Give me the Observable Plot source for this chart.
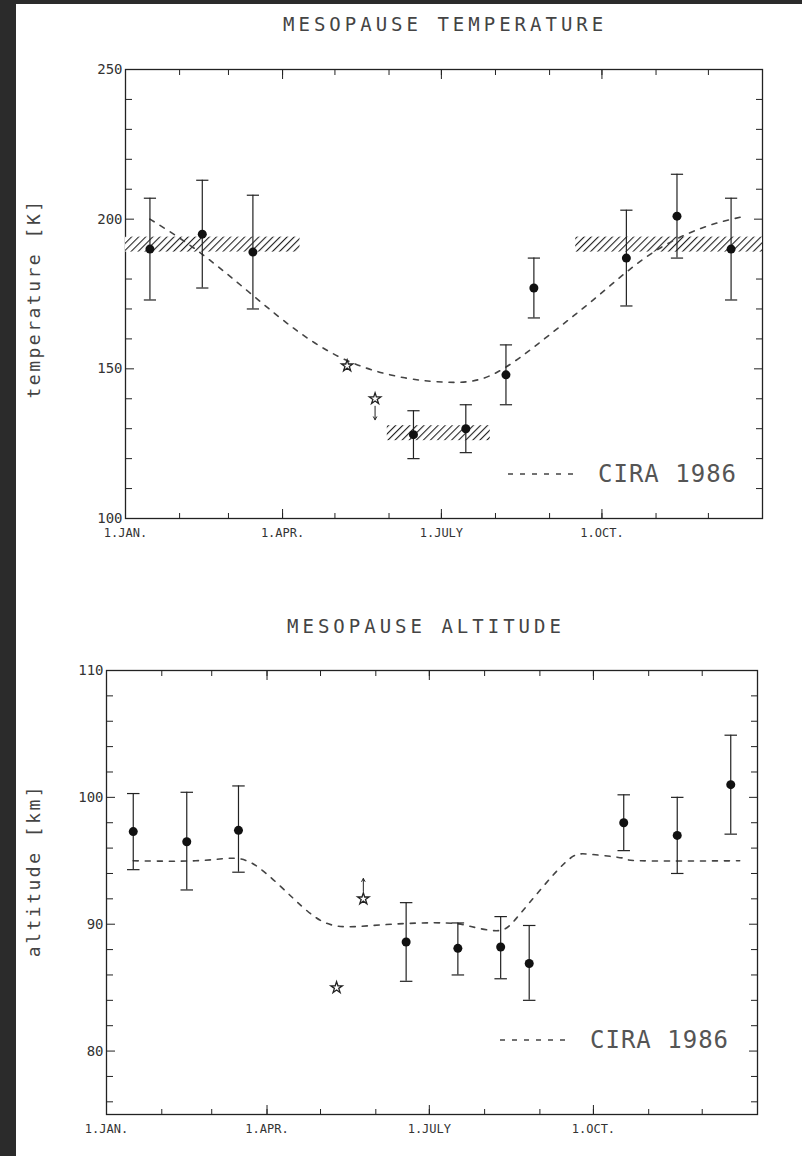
<!DOCTYPE html>
<html><head><meta charset="utf-8">
<script src="https://cdn.jsdelivr.net/npm/d3@7"></script>
<script src="https://cdn.jsdelivr.net/npm/@observablehq/plot@0.6"></script>
<style>
body{margin:0;background:#2b2b2b;width:802px;height:1156px;position:relative;overflow:hidden;font-family:"DejaVu Sans Mono",monospace;}
#paper{position:absolute;left:16px;top:4px;width:786px;height:1152px;background:#fff;}
.abs{position:absolute;}
.title{font-size:19px;color:#444;letter-spacing:4px;white-space:nowrap;}
.leg{font-size:24px;color:#555;display:flex;align-items:center;gap:22px;letter-spacing:1px;white-space:nowrap;}
.ylab{font-size:18px;color:#444;transform:rotate(-90deg);transform-origin:center;letter-spacing:2.5px;white-space:nowrap;}
</style></head><body>
<div id="paper"></div>
<script>
// ---- data ----
const monthStarts=[0,31,59,90,120,151,181,212,243,273,304,334];
const majorDays=[0,90,181,273];
const majorLabels=["1.JAN.","1.APR.","1.JULY","1.OCT."];

const tDay=[14,44,73,165,195,218,234,287,316,347];
const tVal=[190,195,189,128,130,148,177,187,201,190];
const tLo=[173,177,170,120,122,138,167,171,187,173];
const tHi=[207,213,208,136,138,158,187,203,215,207];
const tStarDay=[127,143];
const tStarVal=[151,140];
const tArrowDay=[143], tArrowFrom=[137.5], tArrowTo=[133];
const tBandX1=[0,150,258], tBandX2=[100,209,365], tBandY1=[189,126,189], tBandY2=[194,131,194];
const tCiraDay=[14,40,70,100,130,160,185,210,240,270,300,330,355];
const tCiraVal=[200,190,176,162,152,147,145.5,148,160,174,188,197,201];

const aDay=[15,45,74,168,197,221,237,290,320,350];
const aVal=[97.3,96.5,97.4,88.6,88.1,88.2,86.9,98,97,101];
const aLo=[94.3,92.7,94.1,85.5,86.0,85.7,84.0,95.8,94,97.1];
const aHi=[100.3,100.4,100.9,91.7,90.1,90.6,89.9,100.2,100,104.9];
const aStarDay=[129,144];
const aStarVal=[85,92];
const aArrowDay=[144], aArrowFrom=[92.6], aArrowTo=[93.6];
const aCiraDay=[15,50,70,85,105,120,135,160,190,205,220,230,245,260,272,290,300,355];
const aCiraVal=[95,95,95.2,94.5,92,90.3,89.8,90,90.1,89.8,89.5,90.5,93,95.2,95.5,95.2,95,95];

const ink="#222";
const none=()=>"";
function zip(xs,...cols){return xs.map((x,i)=>({x,...Object.fromEntries(cols.map((c,j)=>["v"+j,c[i]]))}));}

function makePlot(o){
  const pts=zip(o.day,o.val,o.lo,o.hi);
  const stars=zip(o.starDay,o.starVal);
  const arr=zip(o.arrowDay,o.arrowFrom,o.arrowTo);
  const cira=zip(o.ciraDay,o.ciraVal);
  const ax={stroke:ink,label:null};
  const marks=[
    Plot.frame({stroke:ink,strokeWidth:1.3}),
    Plot.axisX(majorDays,{...ax,anchor:"bottom",tickSize:-9,tickFormat:d=>majorLabels[majorDays.indexOf(d)],fontSize:12,fill:"#333",tickPadding:19,fontFamily:"DejaVu Sans Mono"}),
    Plot.axisX(monthStarts,{...ax,anchor:"bottom",tickSize:-5,tickFormat:none}),
    Plot.axisX(majorDays,{...ax,anchor:"top",tickSize:-9,tickFormat:none}),
    Plot.axisX(monthStarts,{...ax,anchor:"top",tickSize:-5,tickFormat:none}),
    Plot.axisY(o.yMajor,{...ax,anchor:"left",tickSize:-9,fontSize:14,fill:"#333",tickPadding:12,fontFamily:"DejaVu Sans Mono"}),
    Plot.axisY(o.yMinor,{...ax,anchor:"left",tickSize:-7,tickFormat:none}),
    Plot.axisY(o.yMajor,{...ax,anchor:"right",tickSize:-9,tickFormat:none}),
    Plot.axisY(o.yMinor,{...ax,anchor:"right",tickSize:-7,tickFormat:none}),
  ];
  if(o.bands){
    const b=zip(o.bands[0],o.bands[1],o.bands[2],o.bands[3]);
    marks.push(Plot.rect(b,{x1:"x",x2:"v0",y1:"v1",y2:"v2",fill:"url(#hatch)"}));
  }
  marks.push(
    Plot.line(cira,{x:"x",y:"v0",curve:"natural",stroke:"#444",strokeWidth:1.6,strokeDasharray:"5,7"}),
    Plot.ruleX(pts,{x:"x",y1:"v1",y2:"v2",stroke:ink,strokeWidth:1.2}),
    Plot.link(pts,{x1:d=>d.x-3.5,x2:d=>d.x+3.5,y1:"v1",y2:"v1",stroke:ink,strokeWidth:1.2}),
    Plot.link(pts,{x1:d=>d.x-3.5,x2:d=>d.x+3.5,y1:"v2",y2:"v2",stroke:ink,strokeWidth:1.2}),
    Plot.dot(pts,{x:"x",y:"v0",r:4.5,fill:"#111"}),
    Plot.arrow(arr,{x1:"x",y1:"v0",x2:"x",y2:"v1",stroke:ink,strokeWidth:1,headLength:5}),
    Plot.dot(stars,{x:"x",y:"v0",symbol:"star",r:3.6,fill:"white",stroke:ink,strokeWidth:1.3})
  );
  const svg=Plot.plot({
    width:o.width,height:o.height,
    marginLeft:o.ml,marginRight:o.mr,marginTop:o.mt,marginBottom:o.mb,
    x:{domain:[0,365],axis:null},
    y:{domain:o.yDomain,axis:null},
    style:{background:"transparent",overflow:"visible"},
    marks
  });
  if(o.bands){
    const ns="http://www.w3.org/2000/svg";
    const defs=document.createElementNS(ns,"defs");
    defs.innerHTML='<pattern id="hatch" width="5" height="5" patternUnits="userSpaceOnUse" patternTransform="rotate(45)"><rect width="5" height="5" fill="white"/><line x1="0" y1="0" x2="0" y2="5" stroke="#222" stroke-width="2.2"/></pattern>';
    svg.insertBefore(defs,svg.firstChild);
  }
  svg.style.position="absolute";svg.style.left="0px";svg.style.top=o.top+"px";
  document.body.appendChild(svg);
}

makePlot({width:802,height:560,top:0,ml:125,mr:40,mt:69,mb:42,yDomain:[100,250],
  yMajor:[100,150,200,250],yMinor:d3.range(110,250,10).filter(v=>v%50),
  day:tDay,val:tVal,lo:tLo,hi:tHi,starDay:tStarDay,starVal:tStarVal,
  arrowDay:tArrowDay,arrowFrom:tArrowFrom,arrowTo:tArrowTo,ciraDay:tCiraDay,ciraVal:tCiraVal,
  bands:[tBandX1,tBandX2,tBandY1,tBandY2]});
makePlot({width:802,height:556,top:600,ml:106,mr:45,mt:70,mb:42,yDomain:[75,110],
  yMajor:[80,90,100,110],yMinor:d3.range(76,110,2).filter(v=>v%10),
  day:aDay,val:aVal,lo:aLo,hi:aHi,starDay:aStarDay,starVal:aStarVal,
  arrowDay:aArrowDay,arrowFrom:aArrowFrom,arrowTo:aArrowTo,ciraDay:aCiraDay,ciraVal:aCiraVal});

function addDiv(cls,html,style){const d=document.createElement("div");d.className="abs "+cls;d.innerHTML=html;Object.assign(d.style,style);document.body.appendChild(d);}
addDiv("title","MESOPAUSE TEMPERATURE",{left:"283px",top:"13px"});
addDiv("title","MESOPAUSE ALTITUDE",{left:"287px",top:"615px"});
addDiv("ylab","temperature [K]",{left:"-67px",top:"288px",width:"200px",textAlign:"center"});
addDiv("ylab","altitude [km]",{left:"-67px",top:"860px",width:"200px",textAlign:"center"});
const dash='<svg width="68" height="4"><line x1="0" y1="2" x2="68" y2="2" stroke="#444" stroke-width="1.6" stroke-dasharray="5,7"/></svg>';
addDiv("leg",dash+"<span>CIRA 1986</span>",{left:"508px",top:"460px"});
addDiv("leg",dash+"<span>CIRA 1986</span>",{left:"500px",top:"1026px"});
</script></body></html>
